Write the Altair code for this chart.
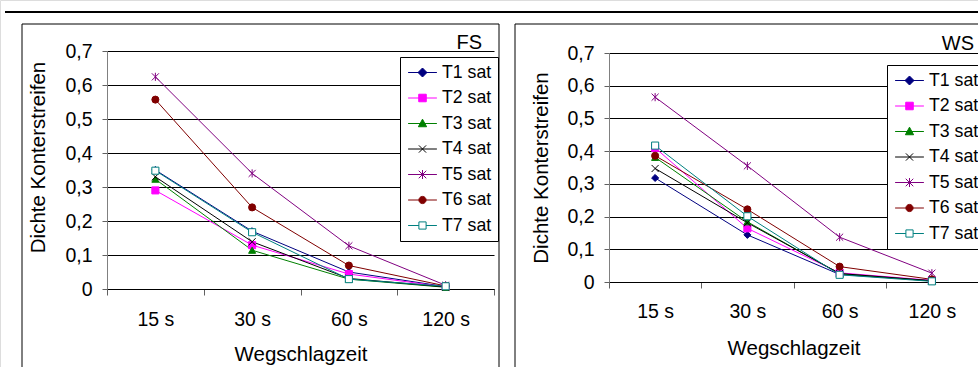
import altair as alt
import pandas as pd

# ---------------- data ----------------
categories = ["15 s", "30 s", "60 s", "120 s"]
series = ["T1 sat", "T2 sat", "T3 sat", "T4 sat", "T5 sat", "T6 sat", "T7 sat"]

fs_t1 = [0.350, 0.170, 0.050, 0.007]
fs_t2 = [0.290, 0.129, 0.044, 0.006]
fs_t3 = [0.323, 0.114, 0.029, 0.005]
fs_t4 = [0.330, 0.139, 0.031, 0.006]
fs_t5 = [0.624, 0.340, 0.127, 0.011]
fs_t6 = [0.557, 0.240, 0.069, 0.009]
fs_t7 = [0.348, 0.167, 0.029, 0.008]

ws_t1 = [0.318, 0.144, 0.023, 0.004]
ws_t2 = [0.410, 0.164, 0.028, 0.005]
ws_t3 = [0.381, 0.184, 0.025, 0.003]
ws_t4 = [0.347, 0.181, 0.026, 0.004]
ws_t5 = [0.565, 0.355, 0.137, 0.027]
ws_t6 = [0.386, 0.222, 0.047, 0.008]
ws_t7 = [0.417, 0.201, 0.022, 0.002]

y_ticks = [0, 0.1, 0.2, 0.3, 0.4, 0.5, 0.6, 0.7]

colors = ["#000080", "#FF00FF", "#008000", "#000000", "#800080", "#800000", "#008080"]
fills = ["#000080", "#FF00FF", "#008000", "#000000", "#800080", "#800000", "#FFFFFF"]

X_PATH = "M-1,-1L1,1M-1,1L1,-1"
AST_PATH = "M-1,-1L1,1M-1,1L1,-1M0,-1.15L0,1.15"
marker_shapes = ["diamond", "square", "triangle-up", X_PATH, AST_PATH, "circle", "square"]

LN = "M-1.6,0L1.6,0"
legend_shapes = [
    LN + "M0,-0.5L0.5,0L0,0.5L-0.5,0Z",
    LN + "M-0.42,-0.42L0.42,-0.42L0.42,0.42L-0.42,0.42Z",
    LN + "M0,-0.48L0.46,0.36L-0.46,0.36Z",
    LN + "M-0.4,-0.4L0.4,0.4M-0.4,0.4L0.4,-0.4",
    LN + "M-0.42,-0.42L0.42,0.42M-0.42,0.42L0.42,-0.42M0,-0.5L0,0.5",
    LN + "M0.4,0A0.4,0.4,0,1,1,-0.4,0A0.4,0.4,0,1,1,0.4,0Z",
    "M-1.6,0L-0.4,0M0.4,0L1.6,0M-0.4,-0.4L0.4,-0.4L0.4,0.4L-0.4,0.4Z",
]

FONT = "Liberation Sans"


def long_df(vals):
    rows = []
    for s, v in zip(series, vals):
        for c, y in zip(categories, v):
            rows.append({"series": s, "zeit": c, "wert": y})
    return pd.DataFrame(rows)


def one_row():
    return alt.Chart(alt.Data(values=[{"k": 0}]))


def deco(x, x2, y, y2, sw=1):
    return one_row().mark_rule(color="black", strokeWidth=sw).encode(
        x=alt.value(x), x2=alt.value(x2), y=alt.value(y), y2=alt.value(y2)
    )


def panel(vals, name, geo):
    df = long_df(vals)
    base = alt.Chart(df)
    x0, x1, ytop, ybot = geo["x0"], geo["x1"], geo["ytop"], geo["ybot"]
    x_enc = alt.X(
        "zeit:N",
        sort=categories,
        scale=alt.Scale(type="band", paddingInner=0, paddingOuter=0, domain=categories,
                        range=[x0, x1]),
        axis=alt.Axis(
            orient="bottom", offset=ybot - 367,
            title="Wegschlagzeit", labelAngle=0, labelFontSize=19.5, labelColor="black",
            labelFont=FONT, titleFont=FONT, titleFontSize=20.5, titleFontWeight="normal",
            titleColor="black", tickBand="extent", tickSize=6, tickColor="#606060",
            domainColor="black", labelPadding=geo["xlp"], titlePadding=geo["xtp"], grid=False,
        ),
    )
    y_enc = alt.Y(
        "wert:Q",
        scale=alt.Scale(domain=[0, 0.7], nice=False, zero=True, range=[ybot, ytop]),
        axis=alt.Axis(
            orient="left", offset=-x0,
            values=y_ticks,
            labelExpr="datum.value == 0 ? '0' : replace(format(datum.value, '.1f'), '.', ',')",
            title="Dichte Konterstreifen", titleFont=FONT, labelFont=FONT,
            labelFontSize=19.5, labelColor="black", titleFontSize=20.5,
            titleFontWeight="normal", titleColor="black", tickSize=5, tickColor="#606060",
            domainColor="#808080", labelPadding=10, titlePadding=geo["ytp"],
            titleY=geo["tty"], grid=True, gridColor="black", gridWidth=1,
        ),
    )
    line_layers = []
    point_layers = []
    for s, c, f, shp in zip(series, colors, fills, marker_shapes):
        sub = base.transform_filter(alt.datum.series == s)
        line_layers.append(sub.mark_line(strokeWidth=1, color=c).encode(x=x_enc, y=y_enc))
        point_layers.append(
            sub.mark_point(
                shape=shp, size=50, strokeWidth=1, opacity=1, stroke=c, fill=f, filled=False
            ).encode(x=x_enc, y=y_enc)
        )
    leg = alt.Legend(
        title=None, orient="none", legendX=geo["lx"], legendY=geo["ly"],
        labelFont=FONT, labelFontSize=17.7, labelColor="black", strokeColor="black",
        fillColor="white", padding=6, rowPadding=6.5, symbolStrokeWidth=1,
        symbolSize=324, symbolOffset=7, labelOffset=10, cornerRadius=0,
    )
    legend_layer = alt.Chart(alt.Data(values=[{"series": "none"}])).transform_filter(
        "datum.series == 'x'"
    ).mark_point(size=324, strokeWidth=1, opacity=1).encode(
        stroke=alt.Stroke("series:N", scale=alt.Scale(domain=series, range=colors), legend=leg),
        fill=alt.Fill("series:N", scale=alt.Scale(domain=series, range=fills), legend=leg),
        shape=alt.Shape("series:N", scale=alt.Scale(domain=series, range=legend_shapes), legend=leg),
    )
    label = one_row().mark_text(
        text=name, align="right", baseline="alphabetic", fontSize=20, font=FONT, color="black"
    ).encode(x=alt.value(geo["tx"]), y=alt.value(geo["ty"]))
    decos = [deco(*d) for d in geo["rules"]]
    return alt.layer(*decos, label, *line_layers, *point_layers, legend_layer)


left_geo = {
    "x0": 107, "x1": 494, "ytop": 51, "ybot": 289,
    "xlp": 15, "xtp": 16, "ytp": 16, "tty": 157, "lx": 400, "ly": 57,
    "tx": 482, "ty": 49,
    "rules": [
        (5, 499, 12, 12, 2),
        (22, 22, 24, 367),
        (22, 499, 24, 24),
        (499, 499, 24, 367),
    ],
}
right_geo = {
    "x0": 609, "x1": 978, "ytop": 53, "ybot": 282,
    "xlp": 14, "xtp": 18, "ytp": 15, "tty": 167.5, "lx": 887, "ly": 65,
    "tx": 974, "ty": 50,
    "rules": [
        (499, 978, 12, 12, 2),
        (515, 515, 24, 367),
        (515, 978, 24, 24),
    ],
}

fs_vals = [fs_t1, fs_t2, fs_t3, fs_t4, fs_t5, fs_t6, fs_t7]
ws_vals = [ws_t1, ws_t2, ws_t3, ws_t4, ws_t5, ws_t6, ws_t7]

left = panel(fs_vals, "FS", left_geo)
right = panel(ws_vals, "WS", right_geo)

chart = alt.layer(left, right).resolve_scale(
    x="independent", y="independent", stroke="independent", fill="independent", shape="independent"
).properties(
    width=978, height=367, padding=0, autosize=alt.AutoSizeParams(type="none")
).configure_view(stroke=None).configure(font=FONT, background="white")

chart.save("out.html", embed_options={"renderer": "svg", "actions": False})
